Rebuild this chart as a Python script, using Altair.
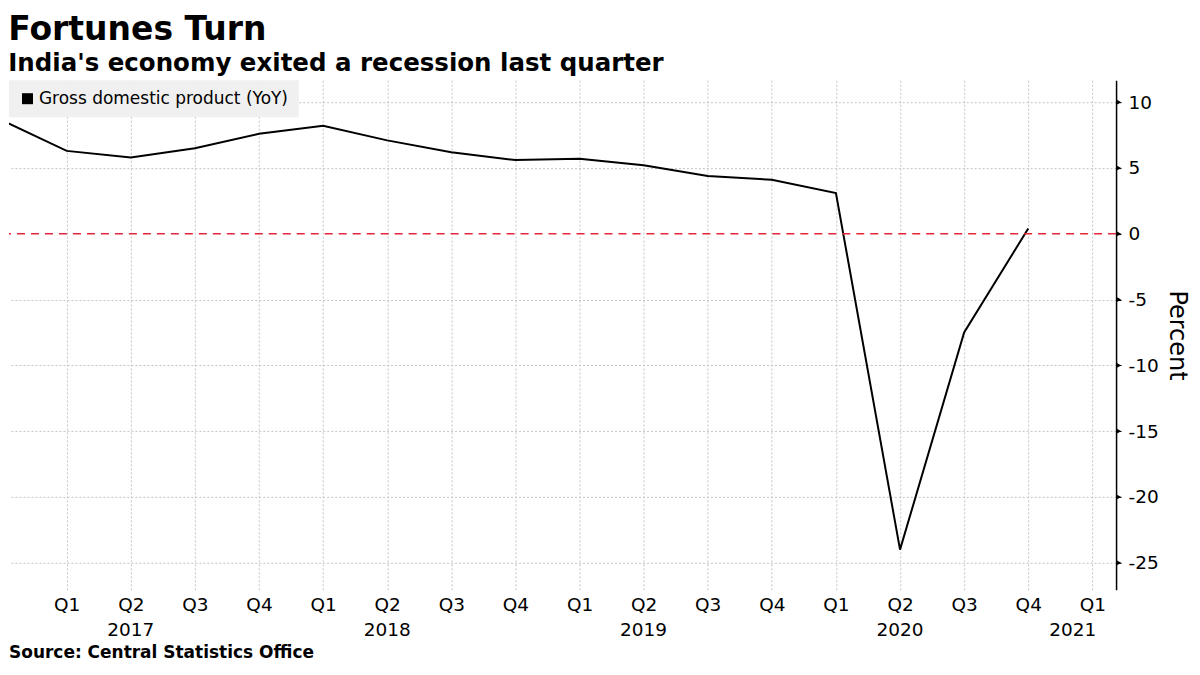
import altair as alt
import pandas as pd

# ---- data ----
quarter_index = [0, 1, 2, 3, 4, 5, 6, 7, 8, 9, 10, 11, 12, 13, 14, 15, 16]   # 0 = Q4 2016
gdp_yoy = [8.6, 6.3, 5.8, 6.5, 7.6, 8.2, 7.1, 6.2, 5.6, 5.7, 5.2, 4.4, 4.1, 3.1, -24.0, -7.5, 0.4]
series_name = "Gross domestic product (YoY)"

tick_positions = [1, 2, 3, 4, 5, 6, 7, 8, 9, 10, 11, 12, 13, 14, 15, 16, 17]
quarter_labels = ["Q4", "Q1", "Q2", "Q3", "Q4", "Q1", "Q2", "Q3", "Q4",
                  "Q1", "Q2", "Q3", "Q4", "Q1", "Q2", "Q3", "Q4", "Q1"]
year_labels = ["2017", "2018", "2019", "2020"]
year_positions = [2, 6, 10, 14]
last_year_label = ["2021"]
last_year_position = [17]

y_tick_values = [-25, -22.5, -20, -17.5, -15, -12.5, -10, -7.5, -5, -2.5,
                 0, 2.5, 5, 7.5, 10]
y_major_values = [-25, -20, -15, -10, -5, 0, 5, 10]
zero_line = [0]
source_text = ["Source: Central Statistics Office"]

FONT = "DejaVu Sans"
W, H = 1108, 510

df = pd.DataFrame({"idx": quarter_index, "gdp": gdp_yoy,
                   "series": [series_name] * len(quarter_index)})

xscale = alt.Scale(domain=[0.1, 17.37], nice=False, zero=False)
yscale = alt.Scale(domain=[-27.05, 11.67], nice=False, zero=False)

label_array = "[" + ",".join("'%s'" % q for q in quarter_labels) + "]"

line = alt.Chart(df).mark_line(strokeWidth=2, clip=True, color="#000").encode(
    x=alt.X("idx:Q", scale=xscale, title=None,
            axis=alt.Axis(values=tick_positions,
                          labelExpr=label_array + "[datum.value]",
                          grid=True, gridDash=[2, 2], gridColor="#c4c4c4",
                          domain=False, ticks=False, labelFontSize=18.5,
                          labelPadding=6, labelColor="#000", labelFont=FONT)),
    y=alt.Y("gdp:Q", scale=yscale, title="Percent",
            axis=alt.Axis(orient="right", values=y_tick_values,
                          labelExpr="datum.value % 5 === 0 ? '' + datum.value : ''",
                          grid=True, gridDash=[2, 2], gridColor="#c4c4c4",
                          gridOpacity={"condition": {"test": "datum.value % 5 === 0 && datum.value !== 0", "value": 1}, "value": 0},
                          domain=True, domainColor="#000", domainWidth=1.5,
                          tickColor="#000", tickSize=5, labelPadding=7,
                          labelFontSize=18.5, labelColor="#000", labelFont=FONT,
                          titleFontSize=24, titleFontWeight="normal", titleFont=FONT,
                          titleColor="#000", titlePadding=6)),
    color=alt.Color("series:N", scale=alt.Scale(range=["#000000"]),
                    legend=alt.Legend(title=None, orient="top-left", offset=0,
                                      fillColor="#f0f0f0", padding=10,
                                      symbolType="square", symbolSize=121,
                                      symbolFillColor="#000000", symbolStrokeColor="#000000",
                                      symbolStrokeWidth=0, labelLimit=0,
                                      labelFontSize=17, labelFont=FONT, labelColor="#000",
                                      labelOffset=3)),
)

zero = alt.Chart(pd.DataFrame({"gdp": zero_line})).mark_rule(
    color="#e3263b", strokeDash=[8, 6], strokeWidth=1.5
).encode(y=alt.Y("gdp:Q", scale=yscale))

triangles = alt.Chart(pd.DataFrame({"gdp": y_major_values})).mark_point(
    shape="triangle-right", filled=True, size=22, color="#000", opacity=1
).encode(y=alt.Y("gdp:Q", scale=yscale), x=alt.value(W + 3))

years = alt.Chart(pd.DataFrame({"idx": year_positions, "year": year_labels})).mark_text(
    fontSize=18.5, font=FONT, color="#000", baseline="middle", align="center"
).encode(x=alt.X("idx:Q", scale=xscale), y=alt.value(H + 40), text="year:N")

last_year = alt.Chart(pd.DataFrame({"idx": last_year_position, "year": last_year_label})).mark_text(
    fontSize=18.5, font=FONT, color="#000", baseline="middle", align="right", dx=4
).encode(x=alt.X("idx:Q", scale=xscale), y=alt.value(H + 40), text="year:N")

source = alt.Chart(pd.DataFrame({"s": source_text})).mark_text(
    fontSize=17, font=FONT, fontWeight="bold", color="#000", baseline="middle", align="left"
).encode(x=alt.value(0), y=alt.value(H + 63), text="s:N")

chart = alt.layer(line, zero, triangles, years, last_year, source).properties(
    width=W, height=H, background="white",
    padding={"left": 0, "top": 5, "right": 3, "bottom": 0},
    title=alt.TitleParams(
        text="Fortunes Turn",
        subtitle=["India's economy exited a recession last quarter"],
        anchor="start", font=FONT, fontSize=33, fontWeight="bold", color="#000",
        subtitleFont=FONT, subtitleFontSize=24.5, subtitleFontWeight="bold",
        subtitleColor="#000", subtitlePadding=5, offset=5,
    ),
).configure_view(stroke=None)

chart.save("out.html", embed_options={"renderer": "svg", "actions": False})
